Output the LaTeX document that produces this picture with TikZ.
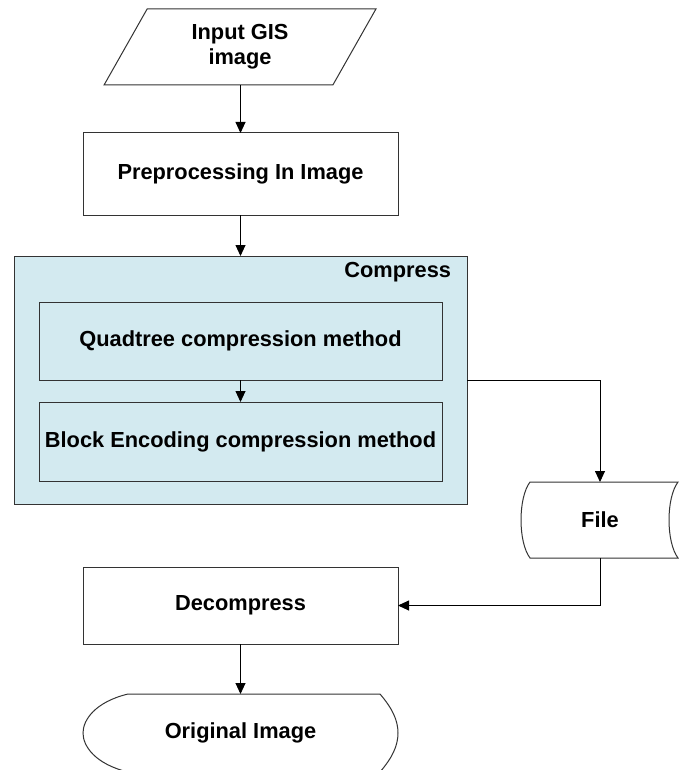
\documentclass[tikz,border=0pt]{standalone}
\usepackage{fontspec}
\setmainfont{Liberation Sans}
\usetikzlibrary{arrows.meta,shapes.geometric}
\definecolor{cmpfill}{RGB}{211,234,240}
\begin{document}
\begin{tikzpicture}[x=1pt,y=-1pt,
  every node/.style={font=\bfseries\fontsize{21.8}{25}\selectfont, align=center, inner sep=0pt, outer sep=0pt},
  ln/.style={draw=black!80, line width=1pt},
  box/.style={ln, rectangle, fill=white},
  blue box/.style={ln, rectangle, fill=cmpfill},
  ghost/.style={rectangle, draw=none},
  arr/.style={black, line width=0.9pt, -{Triangle[width=10pt,length=11pt]}}]
\useasboundingbox (0,0) rectangle (681,770);

% Input parallelogram
\node[trapezium, trapezium left angle=63.4, trapezium right angle=116.6, trapezium stretches=true,
      minimum width=272, minimum height=76, ln, fill=white] (in) at (240,47) {Input GIS\\image};

% Preprocessing
\node[box, minimum width=315, minimum height=82] (pre) at (240.5,174) {Preprocessing In Image};

% Compress container
\node[blue box, minimum width=453, minimum height=248] (cmp) at (240.5,380) {};
\node[anchor=east] (cmplbl) at (451,272) {Compress};
\node[blue box, minimum width=403, minimum height=78] (quad) at (240.5,341) {Quadtree compression method};
\node[blue box, minimum width=403, minimum height=79] (blk) at (240.5,441.5) {Block Encoding compression method};

% File (stored data)
\node[ghost, minimum width=156, minimum height=76] (file) at (600,520) {};
\draw[ln, fill=white] (530,482) -- (678,482)
   .. controls (666,498) and (666,542) .. (678,558)
   -- (530,558)
   .. controls (518,542) and (518,498) .. (530,482) -- cycle;
\node (filetxt) at (file.center) {File};

% Decompress
\node[box, minimum width=315, minimum height=77] (dec) at (240.5,605.5) {Decompress};

% Original image (display)
\node[ghost, minimum width=315, minimum height=78] (orig) at (240.5,733) {};
\draw[ln, fill=white] (128,694) -- (380,694)
   .. controls (392,708) and (398,720) .. (398,733)
   .. controls (398,746) and (392,758) .. (380,772)
   -- (128,772)
   .. controls (95,764) and (83,746) .. (83,733)
   .. controls (83,720) and (95,702) .. (128,694) -- cycle;
\node (origtxt) at (orig.center) {Original Image};

% Connectors
\draw[arr] (in.south -| pre.north) -- (pre.north);
\draw[arr] (pre.south) -- (cmp.north);
\draw[arr] (quad.south) -- (blk.north);
\draw[arr] (cmp.east |- quad.south) -| (file.north);
\draw[arr] (file.south) |- (dec.east);
\draw[arr] (dec.south) -- (orig.north);
\end{tikzpicture}
\end{document}
